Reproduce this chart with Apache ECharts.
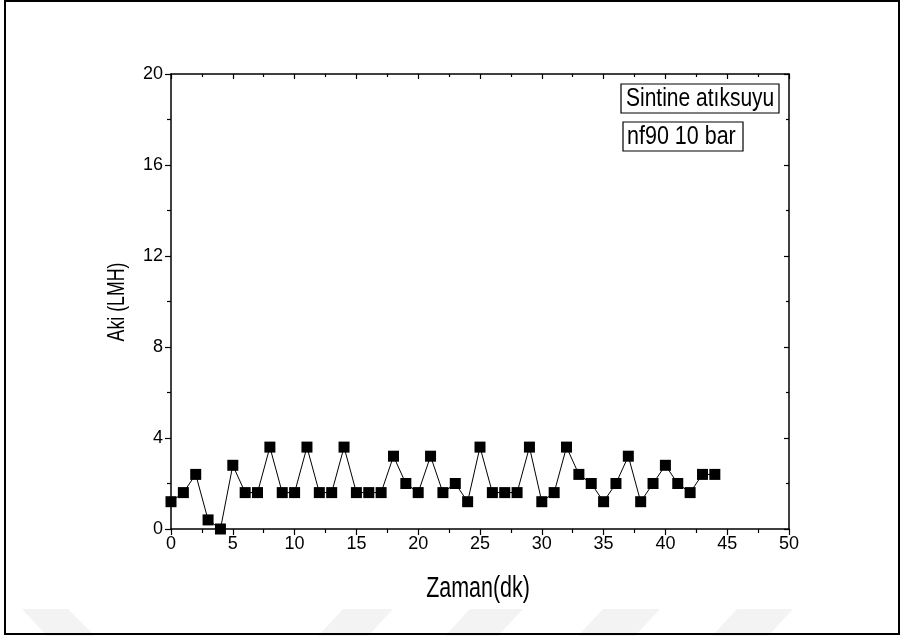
<!DOCTYPE html>
<html>
<head>
<meta charset="utf-8">
<script src="https://cdn.jsdelivr.net/npm/echarts@6/dist/echarts.min.js"></script>
<style>
  html, body { margin: 0; padding: 0; background: #fff; }
  #chart { width: 904px; height: 639px; }
</style>
</head>
<body>
<div id="chart"></div>
<script>
// Flux over time, NF90 membrane at 10 bar
const timeMin = [0, 1, 2, 3, 4, 5, 6, 7, 8, 9, 10, 11, 12, 13, 14, 15, 16, 17, 18, 19, 20,
  21, 22, 23, 24, 25, 26, 27, 28, 29, 30, 31, 32, 33, 34, 35, 36, 37, 38, 39, 40, 41, 42, 43, 44];
const fluxLMH = [1.2, 1.6, 2.4, 0.4, 0, 2.8, 1.6, 1.6, 3.6, 1.6, 1.6, 3.6, 1.6, 1.6, 3.6, 1.6, 1.6,
  1.6, 3.2, 2.0, 1.6, 3.2, 1.6, 2.0, 1.2, 3.6, 1.6, 1.6, 1.6, 3.6, 1.2, 1.6, 3.6, 2.4, 2.0, 1.2,
  2.0, 3.2, 1.2, 2.0, 2.8, 2.0, 1.6, 2.4, 2.4];
const legendLines = ['Sintine atıksuyu', 'nf90 10 bar'];
const xTitle = 'Zaman(dk)';
const yTitle = 'Aki (LMH)';

const FONT = '"Liberation Sans", Arial, sans-serif';
const chart = echarts.init(document.getElementById('chart'), null, { renderer: 'canvas' });

const axisLine = { show: true, onZero: false, lineStyle: { color: '#000', width: 1.5 } };
const tickStyle = { color: '#000', width: 1.2 };

const points = timeMin.map((t, i) => [t, fluxLMH[i]]);

// faint diagonal stripes along the bottom edge
const stripes = [
  [[22, 609], [68, 609], [95, 636], [47, 636]],
  [[343, 609], [393, 609], [368, 636], [318, 636]],
  [[470, 609], [523, 609], [498, 636], [445, 636]],
  [[603, 609], [660, 609], [635, 636], [578, 636]],
  [[737, 609], [793, 609], [768, 636], [712, 636]]
].map(p => ({
  type: 'polygon', z: -10, silent: true,
  shape: { points: p },
  style: { fill: '#f3f3f3' }
}));

// narrow, tall text (titles and the boxed notes use a condensed face)
function narrowText(text, x, y, size, sx, rot, align) {
  return {
    type: 'text', z: 100, silent: true,
    x: x, y: y, scaleX: sx, rotation: rot || 0,
    style: {
      text: text, fontFamily: FONT, fontSize: size, fill: '#000',
      align: align || 'center', verticalAlign: 'middle'
    }
  };
}

function box(x, y, w, h) {
  return {
    type: 'rect', z: 99, silent: true,
    shape: { x: x, y: y, width: w, height: h },
    style: { fill: '#fff', stroke: '#000', lineWidth: 1.2 }
  };
}

chart.setOption({
  backgroundColor: '#fff',
  animation: false,
  grid: { left: 171, right: 115, top: 74, bottom: 110, containLabel: false },
  xAxis: [{
    type: 'value', position: 'bottom', min: 0, max: 50, interval: 5,
    axisLine: axisLine,
    axisTick: { show: true, inside: false, length: 6, lineStyle: tickStyle },
    minorTick: { show: true, splitNumber: 2, length: 4, lineStyle: tickStyle },
    axisLabel: { fontFamily: FONT, fontSize: 18, color: '#000', margin: 6 },
    splitLine: { show: false }
  }, {
    type: 'value', position: 'top', min: 0, max: 50, interval: 5,
    axisLine: axisLine,
    axisTick: { show: true, inside: true, length: 5, lineStyle: tickStyle },
    minorTick: { show: true, splitNumber: 2, length: 3, lineStyle: tickStyle },
    axisLabel: { show: false },
    splitLine: { show: false }
  }],
  yAxis: [{
    type: 'value', position: 'left', min: 0, max: 20, interval: 4,
    axisLine: axisLine,
    axisTick: { show: true, inside: false, length: 6, lineStyle: tickStyle },
    minorTick: { show: true, splitNumber: 2, length: 4, lineStyle: tickStyle },
    axisLabel: { fontFamily: FONT, fontSize: 18, color: '#000', margin: 8 },
    splitLine: { show: false }
  }, {
    type: 'value', position: 'right', min: 0, max: 20, interval: 4,
    axisLine: axisLine,
    axisTick: { show: true, inside: true, length: 5, lineStyle: tickStyle },
    minorTick: { show: true, splitNumber: 2, length: 3, lineStyle: tickStyle },
    axisLabel: { show: false },
    splitLine: { show: false }
  }],
  series: [{
    type: 'line',
    xAxisIndex: 0, yAxisIndex: 0,
    data: points,
    symbol: 'rect', symbolSize: 11, showSymbol: true,
    itemStyle: { color: '#000' },
    lineStyle: { color: '#000', width: 1 },
    clip: false
  }],
  graphic: stripes.concat([
    {
      type: 'rect', silent: true, z: 100,
      shape: { x: 5, y: 1, width: 894, height: 633 },
      style: { fill: null, stroke: '#000', lineWidth: 2 }
    },
    narrowText(xTitle, 478, 589, 29, 0.74),
    narrowText(yTitle, 117, 302, 24, 0.74, Math.PI / 2),
    box(621, 84, 158, 29),
    box(623, 122, 120, 29),
    narrowText(legendLines[0], 626, 99, 25, 0.84, 0, 'left'),
    narrowText(legendLines[1], 627, 137, 25, 0.86, 0, 'left')
  ])
});
</script>
</body>
</html>
